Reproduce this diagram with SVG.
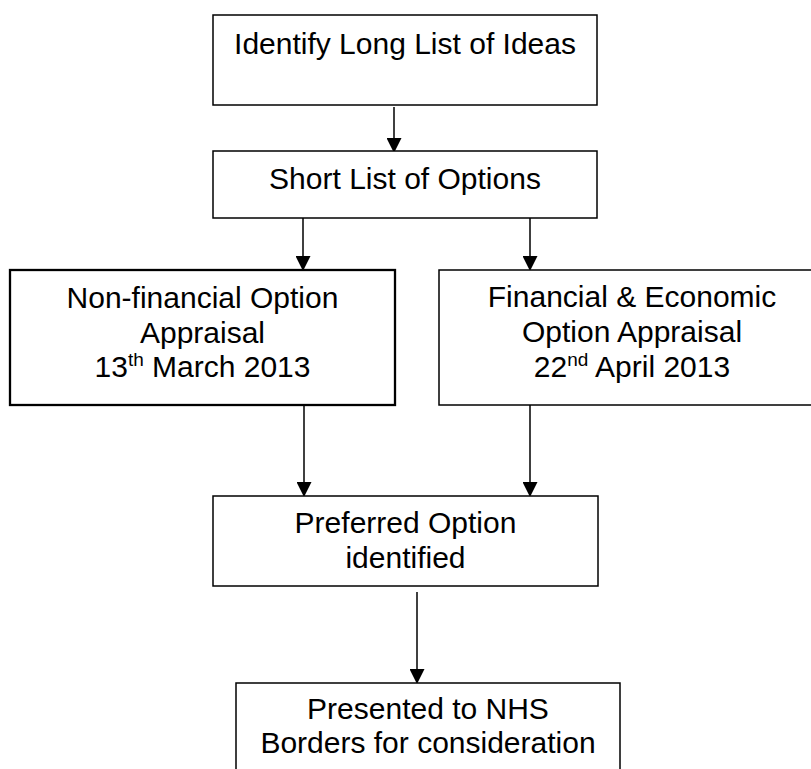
<svg xmlns="http://www.w3.org/2000/svg" width="811" height="769" viewBox="0 0 811 769">
  <style>
    .box { fill: #ffffff; stroke: #000000; stroke-width: 1.5; }
    .box.bold { stroke-width: 2.3; }
    .label { font-family: "Liberation Sans", Arial, sans-serif; font-size: 30px; fill: #000000; text-anchor: middle; }
    .sup { font-size: 19px; }
    .link { stroke: #000000; stroke-width: 1.5; fill: none; marker-end: url(#arrow); }
  </style>
  <defs>
    <marker id="arrow" markerUnits="userSpaceOnUse" markerWidth="15" markerHeight="15" viewBox="0 0 15 15" refX="6" refY="7.5" orient="auto">
      <path d="M0,0 L15,7.5 L0,15 z" fill="#000000"/>
    </marker>
  </defs>
  <rect width="811" height="769" fill="#ffffff"/>

  <!-- connectors -->
  <g id="connectors">
    <line class="link" x1="394" y1="107" x2="394" y2="144"/>
    <line class="link" x1="303" y1="218" x2="303" y2="262"/>
    <line class="link" x1="530" y1="218" x2="530" y2="262"/>
    <line class="link" x1="304" y1="405" x2="304" y2="488"/>
    <line class="link" x1="530" y1="405" x2="530" y2="488"/>
    <line class="link" x1="417" y1="592" x2="417" y2="675"/>
  </g>

  <g id="long-list">
    <rect class="box" x="213" y="15" width="384" height="90"/>
    <text class="label" x="405" y="54">Identify Long List of Ideas</text>
  </g>

  <g id="short-list">
    <rect class="box" x="213" y="151" width="384" height="67"/>
    <text class="label" x="405" y="189">Short List of Options</text>
  </g>

  <g id="non-financial">
    <rect class="box bold" x="10" y="270" width="385" height="135"/>
    <text class="label" x="202.5" y="308">Non-financial Option</text>
    <text class="label" x="202.5" y="343">Appraisal</text>
    <text class="label" x="202.5" y="377">13<tspan class="sup" dy="-11">th</tspan><tspan dy="11"> March 2013</tspan></text>
  </g>

  <g id="financial-economic">
    <rect class="box" x="439" y="270" width="386" height="135"/>
    <text class="label" x="632" y="307">Financial &amp; Economic</text>
    <text class="label" x="632" y="342">Option Appraisal</text>
    <text class="label" x="632" y="377">22<tspan class="sup" dy="-11">nd</tspan><tspan dy="11"> April 2013</tspan></text>
  </g>

  <g id="preferred">
    <rect class="box" x="213" y="496" width="385" height="90"/>
    <text class="label" x="405.5" y="533">Preferred Option</text>
    <text class="label" x="405.5" y="568">identified</text>
  </g>

  <g id="presented">
    <rect class="box" x="236" y="683" width="384" height="120"/>
    <text class="label" x="428" y="719">Presented to NHS</text>
    <text class="label" x="428" y="753">Borders for consideration</text>
  </g>
</svg>
